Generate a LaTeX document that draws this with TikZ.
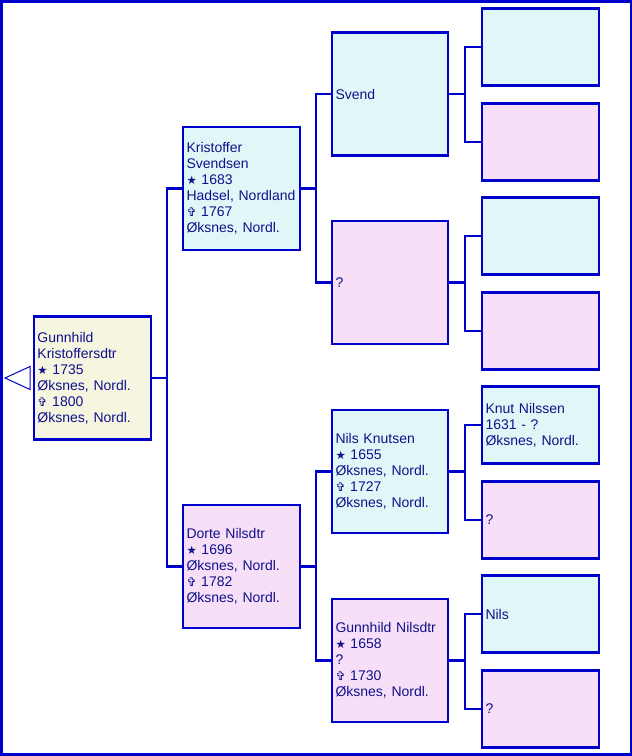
\documentclass[tikz,border=0pt]{standalone}
\usepackage{fontspec}
\setmainfont{Liberation Sans}
\newfontfamily\symf{DejaVu Sans}
\definecolor{bdr}{RGB}{0,0,204}
\definecolor{txt}{RGB}{16,16,140}
\definecolor{mfill}{RGB}{224,247,247}
\definecolor{ffill}{RGB}{247,224,247}
\definecolor{rfill}{RGB}{245,245,224}
\newcommand{\bstar}{{\symf\fontsize{11.5}{16}\selectfont ★}}
\newcommand{\bcross}{{\symf\fontsize{12}{16}\selectfont ✞}}
\tikzset{
  pbox/.style={draw=bdr, line width=2.4pt, text=txt, font=\fontsize{14}{16}\selectfont,
    align=left, inner xsep=3.5pt, inner ysep=0pt, rectangle},
  gA/.style={pbox, text width=110pt, minimum width=117pt, minimum height=123pt},
  gB/.style={pbox, text width=109pt, minimum width=116pt, minimum height=123pt},
  gC/.style={pbox, text width=110pt, minimum width=117pt, minimum height=77pt},
  male/.style={fill=mfill},
  female/.style={fill=ffill},
  rootp/.style={fill=rfill},
  link/.style={draw=bdr, line width=2.2pt},
}
\begin{document}
\begin{tikzpicture}[x=1pt,y=-1pt]
\useasboundingbox (0,0) rectangle (632,756);
\draw[bdr, line width=2.6pt] (1.2,1.2) rectangle (630.8,754.6);
% root
\node[gA, rootp] (root) at (92.5,378) {Gunnhild\\Kristoffersdtr\\\bstar\ 1735\\Øksnes, Nordl.\\\bcross\ 1800\\Øksnes, Nordl.};
\draw[bdr, line width=1pt] (30,366.5) -- (5,378) -- (30,389.5) -- cycle;
% generation 1
\node[gA, male] (f) at (241.5,188.5) {Kristoffer\\Svendsen\\\bstar\ 1683\\Hadsel, Nordland\\\bcross\ 1767\\Øksnes, Nordl.};
\node[gA, female] (m) at (241.5,566.5) {Dorte Nilsdtr\\\bstar\ 1696\\Øksnes, Nordl.\\\bcross\ 1782\\Øksnes, Nordl.};
% generation 2
\node[gB, male] (ff) at (390,94) {Svend};
\node[gB, female] (fm) at (390,282.5) {?};
\node[gB, male] (mf) at (390,471.5) {Nils Knutsen\\\bstar\ 1655\\Øksnes, Nordl.\\\bcross\ 1727\\Øksnes, Nordl.};
\node[gB, female] (mm) at (390,660.5) {Gunnhild Nilsdtr\\\bstar\ 1658\\?\\\bcross\ 1730\\Øksnes, Nordl.};
% generation 3
\node[gC, male] (fff) at (540.5,47) {};
\node[gC, female] (ffm) at (540.5,142) {};
\node[gC, male] (fmf) at (540.5,236) {};
\node[gC, female] (fmm) at (540.5,331) {};
\node[gC, male] (mff) at (540.5,425) {Knut Nilssen\\1631 - ?\\Øksnes, Nordl.};
\node[gC, female] (mfm) at (540.5,520) {?};
\node[gC, male] (mmf) at (540.5,614) {Nils};
\node[gC, female] (mmm) at (540.5,709) {?};
% junctions
\coordinate (j0) at (167,378);
\coordinate (j1) at (316,188.5);
\coordinate (j2) at (316,566.5);
\coordinate (j3) at (465,94);
\coordinate (j4) at (465,282.5);
\coordinate (j5) at (465,471.5);
\coordinate (j6) at (465,660.5);
% connectors
\draw[link] (root.east) -- (j0);
\draw[link] (f.west) -| (j0) |- (m.west);
\draw[link] (f.east) -- (j1);
\draw[link] (ff.west) -| (j1) |- (fm.west);
\draw[link] (m.east) -- (j2);
\draw[link] (mf.west) -| (j2) |- (mm.west);
\draw[link] (ff.east) -- (j3);
\draw[link] (fff.west) -| (j3) |- (ffm.west);
\draw[link] (fm.east) -- (j4);
\draw[link] (fmf.west) -| (j4) |- (fmm.west);
\draw[link] (mf.east) -- (j5);
\draw[link] (mff.west) -| (j5) |- (mfm.west);
\draw[link] (mm.east) -- (j6);
\draw[link] (mmf.west) -| (j6) |- (mmm.west);
\end{tikzpicture}
\end{document}
